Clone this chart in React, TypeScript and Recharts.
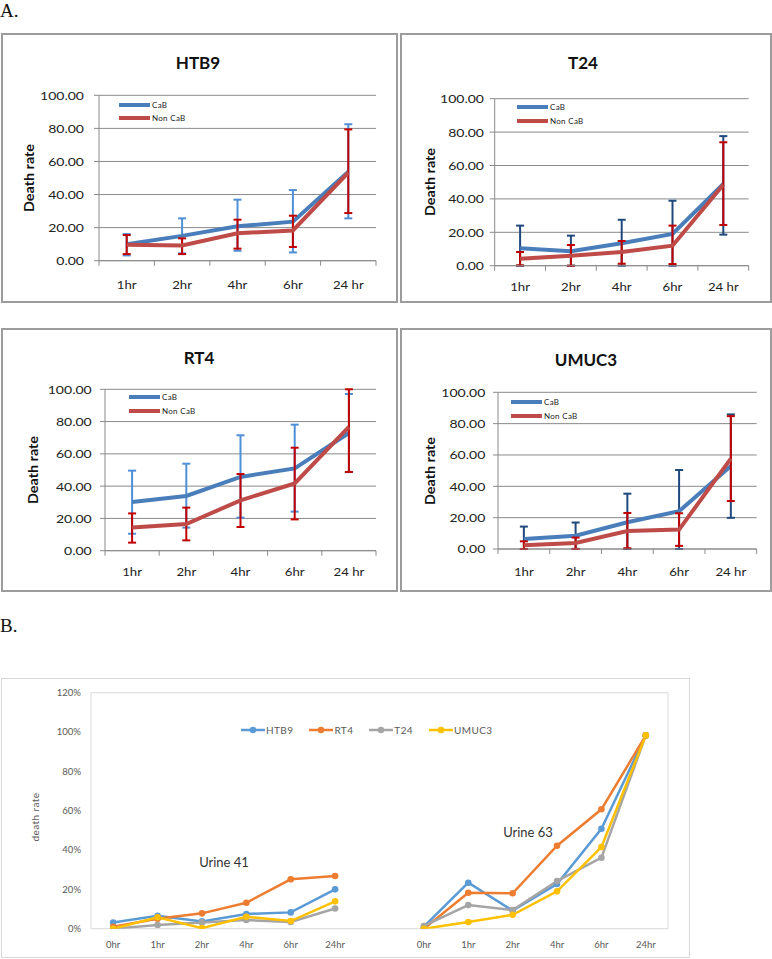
import React from 'react';
import { LineChart, Line, XAxis, YAxis, CartesianGrid, ErrorBar, Legend, ReferenceArea } from 'recharts';

// ---------- Data: panel A ----------
const TIMES_A = ['1hr', '2hr', '4hr', '6hr', '24 hr'];
const Y_TICKS_A = [0, 20, 40, 60, 80, 100];

const HTB9_CAB = [10, 15, 20.8, 23.6, 53.8];
const HTB9_CAB_ERR = [[6.8, 6.1], [10.6, 10.6], [14.8, 16.1], [18.6, 19.1], [28.2, 28.7]];
const HTB9_NON = [9.7, 9.2, 16.6, 18.3, 53.3];
const HTB9_NON_ERR = [[5.7, 5.8], [5.2, 4.3], [9.3, 8.2], [10, 8.9], [24.5, 26.1]];

const T24_CAB = [10.4, 8.6, 13.4, 19, 48.9];
const T24_CAB_ERR = [[10.4, 13.6], [8.6, 9.4], [13.4, 14.1], [19, 19.9], [30.3, 28.7]];
const T24_NON = [4.2, 6, 8.2, 12, 48.5];
const T24_NON_ERR = [[4, 4], [6, 6.4], [7, 6.6], [11, 12], [24.1, 25.4]];

const RT4_CAB = [30.2, 33.9, 45.7, 51, 72.9];
const RT4_CAB_ERR = [[19.7, 19.4], [19.6, 20], [25.2, 25.8], [26.8, 27.1], [24.2, 24.2]];
const RT4_NON = [14.3, 16.5, 31.2, 41.7, 76.7];
const RT4_NON_ERR = [[9.3, 8.8], [10.1, 10.2], [16.5, 16.3], [22.3, 22.1], [27.9, 23.3]];

const UMUC3_CAB = [6.4, 8.5, 17.1, 24.1, 53];
const UMUC3_CAB_ERR = [[6.4, 7.9], [8.4, 8.4], [17.1, 18.2], [24.1, 26.3], [33.1, 32.9]];
const UMUC3_NON = [2.4, 3.8, 11.5, 12.4, 57.7];
const UMUC3_NON_ERR = [[2.4, 2.5], [3.8, 3.5], [11, 11.5], [10.4, 10.4], [27.1, 27.1]];

// ---------- Data: panel B ----------
const TIMES_B = ['0hr', '1hr', '2hr', '4hr', '6hr', '24hr', '', '0hr', '1hr', '2hr', '4hr', '6hr', '24hr'];
const Y_TICKS_B = [0, 20, 40, 60, 80, 100, 120];
const SERIES_B = ['HTB9', 'RT4', 'T24', 'UMUC3'];
const HTB9_U41 = [3.1, 6.6, 3.7, 7.5, 8.3, 20];
const RT4_U41 = [1, 5.1, 7.8, 13.2, 25.1, 26.8];
const T24_U41 = [0, 1.9, 3.2, 4.4, 3.4, 10.3];
const UMUC3_U41 = [0, 5.8, 0.3, 6.1, 3.9, 13.9];
const HTB9_U63 = [1, 23.4, 9.2, 22.7, 50.8, 98.3];
const RT4_U63 = [0, 18.3, 18, 42.2, 60.7, 98.3];
const T24_U63 = [1.4, 12, 9.5, 24.2, 36.1, 98.3];
const UMUC3_U63 = [0, 3.4, 7.1, 19, 41.5, 98.3];

// ---------- build tables ----------
function buildA(cab: number[], cabErr: number[][], non: number[], nonErr: number[][]) {
  return TIMES_A.map((t, i) => ({ x: i, label: t, cab: cab[i], cabErr: cabErr[i], non: non[i], nonErr: nonErr[i] }));
}
const U41: Record<string, number[]> = { HTB9: HTB9_U41, RT4: RT4_U41, T24: T24_U41, UMUC3: UMUC3_U41 };
const U63: Record<string, number[]> = { HTB9: HTB9_U63, RT4: RT4_U63, T24: T24_U63, UMUC3: UMUC3_U63 };
const DATA_B = TIMES_B.map((t, i) => {
  const row: any = { x: i, label: t };
  SERIES_B.forEach((s) => {
    row[s] = i < 6 ? U41[s][i] : i > 6 ? U63[s][i - 7] : null;
  });
  return row;
});

const FONT = 'Lato, "Open Sans", sans-serif';

// ---------- layout ----------
const PANELS_A = [
  {
    title: 'HTB9', data: buildA(HTB9_CAB, HTB9_CAB_ERR, HTB9_NON, HTB9_NON_ERR),
    box: { l: 1, t: 33, w: 397, h: 270 }, plot: { l: 99, t: 95.3, r: 376, b: 260.7 },
    titleX: 198, titleY: 63, yLabelRight: 84, deathX: 29, deathY: 178, xLabelY: 285,
    legendX: 119, legendY: 105, rowH: 13, eb: '#4F8FD6',
  },
  {
    title: 'T24', data: buildA(T24_CAB, T24_CAB_ERR, T24_NON, T24_NON_ERR),
    box: { l: 400, t: 33, w: 372, h: 270 }, plot: { l: 494.7, t: 98.7, r: 748.7, b: 265.7 },
    titleX: 583, titleY: 63, yLabelRight: 484, deathX: 430, deathY: 182, xLabelY: 286.7,
    legendX: 517, legendY: 107, rowH: 14, eb: '#1F497D',
  },
  {
    title: 'RT4', data: buildA(RT4_CAB, RT4_CAB_ERR, RT4_NON, RT4_NON_ERR),
    box: { l: 1, t: 328, w: 397, h: 264 }, plot: { l: 105, t: 389.3, r: 376, b: 550.7 },
    titleX: 199, titleY: 358, yLabelRight: 91.7, deathX: 33, deathY: 470, xLabelY: 571.7,
    legendX: 129, legendY: 397, rowH: 14, eb: '#4F8FD6',
  },
  {
    title: 'UMUC3', data: buildA(UMUC3_CAB, UMUC3_CAB_ERR, UMUC3_NON, UMUC3_NON_ERR),
    box: { l: 400, t: 328, w: 372, h: 264 }, plot: { l: 498, t: 392.3, r: 756.7, b: 549 },
    titleX: 586, titleY: 360, yLabelRight: 485.3, deathX: 430.3, deathY: 471, xLabelY: 572,
    legendX: 511, legendY: 402, rowH: 14, eb: '#1F497D',
  },
];

const BoundaryTick = (props: any) => {
  const { x, payload, labels, half, labelY } = props;
  const idx = Math.round(payload.value + 0.5);
  if (idx < 0 || idx >= labels.length) return null;
  return (
    <text transform={`translate(${x + half}, ${labelY}) scale(1.1, 1)`} x={0} y={0} textAnchor="middle" dominantBaseline="central"
      fontFamily={FONT} fontSize={12} fill="#222">
      {labels[idx]}
    </text>
  );
};

const YTickA = (props: any) => {
  const { x, y, payload } = props;
  return (
    <text transform={`translate(${x}, ${y}) scale(1.22, 1)`} x={0} y={0} textAnchor="end" dominantBaseline="central"
      fontFamily={FONT} fontSize={11.5} fill="#222">
      {Number(payload.value).toFixed(2)}
    </text>
  );
};

function PanelA({ cfg }: { cfg: any }) {
  const { box, plot } = cfg;
  const xAxisH = 30;
  const margin = { top: plot.t - box.t, right: box.l + box.w - plot.r, left: 0, bottom: box.t + box.h - plot.b - xAxisH };
  const yW = plot.l - box.l;
  const half = (plot.r - plot.l) / TIMES_A.length / 2;
  const renderLegend = (props: any) => (
    <div style={{ fontFamily: FONT, fontSize: 8, color: '#222' }}>
      {(props.payload || []).map((p: any) => (
        <div key={p.value} style={{ display: 'flex', alignItems: 'center', height: cfg.rowH }}>
          <svg width={31} height={6} style={{ display: 'block' }}>
            <line x1={0} x2={31} y1={3} y2={3} stroke={p.color} strokeWidth={4} />
          </svg>
          <span style={{ marginLeft: 2, letterSpacing: '0.3px' }}>{p.value}</span>
        </div>
      ))}
    </div>
  );
  return (
    <div style={{ position: 'absolute', left: box.l, top: box.t, width: box.w, height: box.h }}>
      <div style={{ position: 'absolute', left: 0, top: 0, width: box.w, height: box.h, border: '2px solid #9c9c9c', boxSizing: 'border-box' }} />
      <div style={{ position: 'absolute', left: cfg.titleX - box.l - 60, width: 120, top: cfg.titleY - box.t - 10, height: 20, lineHeight: '20px', textAlign: 'center', fontFamily: FONT, fontWeight: 700, fontSize: 17, color: '#111' }}>
        {cfg.title}
      </div>
      <div style={{ position: 'absolute', left: 0, top: 0 }}>
        <LineChart width={box.w} height={box.h} data={cfg.data} margin={margin}>
          <CartesianGrid horizontal vertical={false} stroke="#8a8a8a" strokeWidth={1} />
          <XAxis type="number" dataKey="x" domain={[-0.5, 4.5]} ticks={[-0.5, 0.5, 1.5, 2.5, 3.5, 4.5]} interval={0}
            allowDataOverflow height={xAxisH} tickSize={5} tickMargin={0} stroke="#8a8a8a"
            tick={<BoundaryTick labels={TIMES_A} half={half} labelY={cfg.xLabelY - box.t} />} />
          <YAxis type="number" domain={[0, 100]} ticks={Y_TICKS_A} interval={0} allowDataOverflow width={yW}
            tickSize={5} tickMargin={plot.l - 5 - cfg.yLabelRight} stroke="#8a8a8a" tick={<YTickA />}
            label={{
              content: () => {
                const cx = cfg.deathX - box.l;
                const cy = cfg.deathY - box.t;
                return (
                  <text transform={`translate(${cx}, ${cy}) rotate(-90) scale(1.15, 1)`} x={0} y={0} textAnchor="middle" dominantBaseline="central"
                    fontFamily={FONT} fontWeight={700} fontSize={12.5} fill="#111">
                    Death rate
                  </text>
                );
              },
            }} />
          <Line type="linear" dataKey="cab" name="CaB" stroke="#4A7EBB" strokeWidth={4} dot={false} isAnimationActive={false}>
            <ErrorBar dataKey="cabErr" width={4} stroke={cfg.eb} strokeWidth={2} direction="y" />
          </Line>
          <Line type="linear" dataKey="non" name="Non CaB" stroke="#BE4B48" strokeWidth={4} dot={false} isAnimationActive={false}>
            <ErrorBar dataKey="nonErr" width={4} stroke="#C00000" strokeWidth={2} direction="y" />
          </Line>
          <Legend content={renderLegend} layout="vertical" align="center" verticalAlign="middle"
            wrapperStyle={{ left: cfg.legendX - box.l, top: cfg.legendY - box.t - cfg.rowH / 2, width: 'auto', height: 'auto' }} />
        </LineChart>
      </div>
    </div>
  );
}

const COLORS_B: Record<string, string> = { HTB9: '#5B9BD5', RT4: '#ED7D31', T24: '#A5A5A5', UMUC3: '#FFC000' };

function PanelB() {
  const box = { l: 1, t: 678, w: 689, h: 280 };
  const plot = { l: 91, t: 692.7, r: 668, b: 928.7 };
  const xAxisH = 25;
  const margin = { top: plot.t - box.t, right: box.l + box.w - plot.r, left: 0, bottom: box.t + box.h - plot.b - xAxisH };
  const renderLegend = (props: any) => (
    <div style={{ display: 'flex', alignItems: 'center', fontFamily: FONT, fontSize: 10, color: '#595959', whiteSpace: 'nowrap' }}>
      {(props.payload || []).map((p: any) => (
        <div key={p.value} style={{ display: 'flex', alignItems: 'center', marginRight: 16 }}>
          <svg width={24} height={8} style={{ display: 'block' }}>
            <line x1={0} x2={24} y1={4} y2={4} stroke={p.color} strokeWidth={2.5} />
            <circle cx={12} cy={4} r={3.3} fill={p.color} />
          </svg>
          <span style={{ marginLeft: 1, letterSpacing: '0.4px' }}>{p.value}</span>
        </div>
      ))}
    </div>
  );
  return (
    <div style={{ position: 'absolute', left: box.l, top: box.t, width: box.w, height: box.h }}>
      <div style={{ position: 'absolute', left: 0, top: 0, width: box.w, height: box.h, border: '1px solid #d9d9d9', boxSizing: 'border-box' }} />
      <div style={{ position: 'absolute', left: 0, top: 0 }}>
        <LineChart width={box.w} height={box.h} data={DATA_B} margin={margin}>
          <ReferenceArea x1={-0.5} x2={12.5} y1={0} y2={120} fill="none" stroke="#d9d9d9" strokeWidth={1} ifOverflow="visible" />
          <XAxis type="number" dataKey="x" domain={[-0.5, 12.5]} ticks={TIMES_B.map((_, i) => i)} interval={0} allowDataOverflow
            height={xAxisH} tickLine={false} axisLine={false} tickSize={0} tickMargin={12.5}
            tickFormatter={(v: number) => TIMES_B[v]}
            tick={{ fontFamily: FONT, fontSize: 9.5, fill: '#595959' }} />
          <YAxis type="number" domain={[0, 120]} ticks={Y_TICKS_B} interval={0} allowDataOverflow width={plot.l - box.l}
            tickLine={false} axisLine={false} tickSize={0} tickMargin={10}
            tickFormatter={(v: number) => `${v}%`}
            tick={{ fontFamily: FONT, fontSize: 9.5, fill: '#595959' }}
            label={{
              content: () => {
                const cx = 35 - box.l;
                const cy = 817 - box.t;
                return (
                  <text x={cx} y={cy} transform={`rotate(-90, ${cx}, ${cy})`} textAnchor="middle" dominantBaseline="central"
                    fontFamily={FONT} fontSize={10} fill="#595959" style={{ letterSpacing: '0.4px' }}>
                    death rate
                  </text>
                );
              },
            }} />
          {SERIES_B.map((s) => (
            <Line key={s} type="linear" dataKey={s} name={s} stroke={COLORS_B[s]} strokeWidth={2.5}
              dot={{ r: 3.3, fill: COLORS_B[s], stroke: COLORS_B[s], strokeWidth: 0 }} isAnimationActive={false} />
          ))}
          <Legend content={renderLegend} layout="vertical" align="center" verticalAlign="middle"
            wrapperStyle={{ left: 241 - box.l, top: 730 - box.t - 6, width: 'auto', height: 'auto' }} />
        </LineChart>
      </div>
      <div style={{ position: 'absolute', left: 224 - box.l - 40, width: 80, top: 862 - box.t - 9, height: 18, lineHeight: '18px', textAlign: 'center', fontFamily: FONT, fontSize: 13, color: '#333' }}>Urine 41</div>
      <div style={{ position: 'absolute', left: 528 - box.l - 40, width: 80, top: 832 - box.t - 9, height: 18, lineHeight: '18px', textAlign: 'center', fontFamily: FONT, fontSize: 13, color: '#333' }}>Urine 63</div>
    </div>
  );
}

export default function App() {
  return (
    <div style={{ position: 'absolute', left: 0, top: 0, width: 772, height: 959, background: '#fff', overflow: 'hidden' }}>
      <div style={{ position: 'absolute', left: 0, top: 1, fontFamily: '"Liberation Serif", "Times New Roman", serif', fontSize: 19, lineHeight: 1, color: '#111' }}>A.</div>
      <div style={{ position: 'absolute', left: 0, top: 616, fontFamily: '"Liberation Serif", "Times New Roman", serif', fontSize: 19, lineHeight: 1, color: '#111' }}>B.</div>
      {PANELS_A.map((cfg) => (
        <PanelA key={cfg.title} cfg={cfg} />
      ))}
      <PanelB />
    </div>
  );
}
